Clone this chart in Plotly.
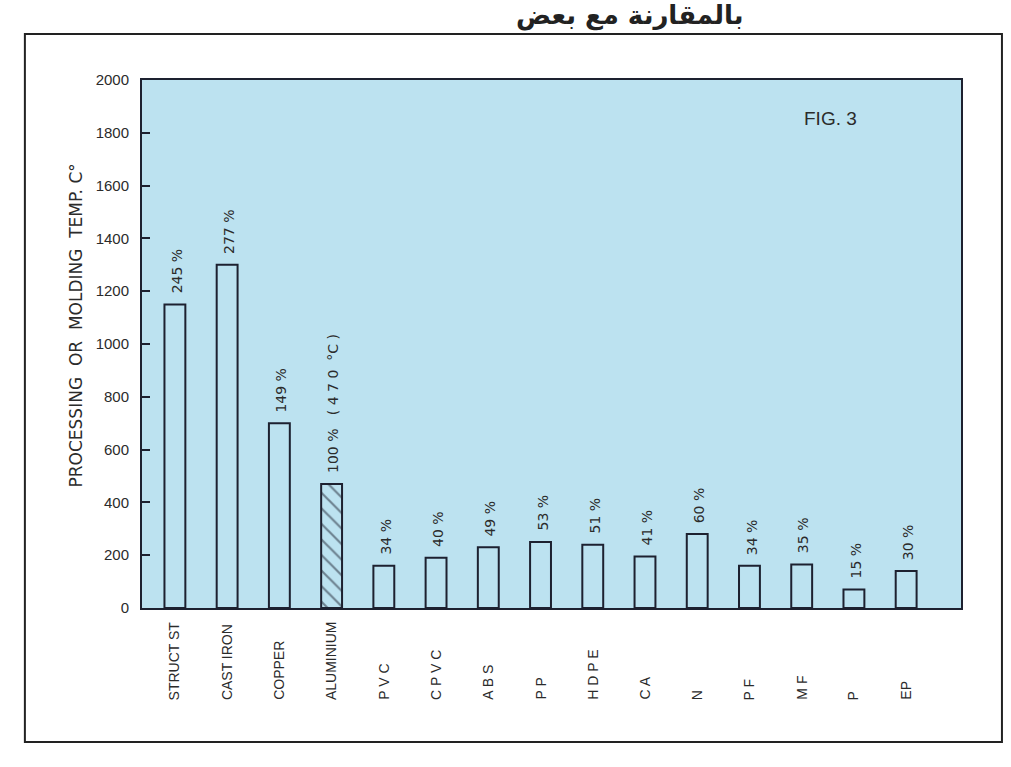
import plotly.graph_objects as go

# Materials, processing/molding temperatures (°C) and their share of aluminium's 470 °C
categories = ["STRUCT ST", "CAST IRON", "COPPER", "ALUMINIUM", "P V C", "C P V C", "A B S",
              "P P", "H D P E", "C A", "N", "P F", "M F", "P", "EP"]
temps = [1150, 1300, 700, 470, 160, 190, 230, 250, 240, 195, 280, 160, 165, 70, 140]
pct_labels = ["245 %", "277 %", "149 %", "100 %\u00a0\u00a0\u00a0( 4 7 0 \u00a0°C )", "34 %", "40 %",
              "49 %", "53 %", "51 %", "41 %", "60 %", "34 %", "35 %", "15 %", "30 %"]
hatch = ["", "", "", "\\", "", "", "", "", "", "", "", "", "", "", ""]
y_ticks = [0, 200, 400, 600, 800, 1000, 1200, 1400, 1600, 1800, 2000]

INK = "#1d2130"
TXT = "#2b2b2b"
BLUE = "#BCE2F0"

fig = go.Figure()
fig.add_trace(go.Bar(
    x=categories, y=temps, width=0.4,
    marker=dict(color="rgba(0,0,0,0)", line=dict(color=INK, width=2),
                pattern=dict(shape=hatch, fgcolor=INK, size=11, solidity=0.2)),
    hoverinfo="x+y", showlegend=False,
))

annotations = []
# value labels above bars
for c, v, t in zip(categories, temps, pct_labels):
    annotations.append(dict(x=c, y=v, xref="x", yref="y", text=t, textangle=-90,
                            showarrow=False, xanchor="center", yanchor="bottom", yshift=9,
                            xshift=2, font=dict(family="DejaVu Sans", size=14, color=TXT)))
# category labels, bottom-aligned below the axis
for c in categories:
    annotations.append(dict(x=c, y=-0.178, xref="x", yref="paper", text=c, textangle=-90,
                            showarrow=False, xanchor="center", yanchor="bottom",
                            font=dict(family="Liberation Sans", size=14, color=TXT)))
# y axis title
annotations.append(dict(x=-0.08, y=0.536, xref="paper", yref="paper",
                        text="PROCESSING\u00a0\u00a0OR\u00a0\u00a0MOLDING\u00a0\u00a0TEMP.\u00a0C°",
                        textangle=-90, showarrow=False, xanchor="center", yanchor="middle",
                        font=dict(family="DejaVu Sans", size=17, color=TXT)))
# figure tag
annotations.append(dict(x=0.841, y=0.928, xref="paper", yref="paper", text="FIG. 3",
                        showarrow=False, xanchor="center", yanchor="middle",
                        font=dict(family="Liberation Sans Narrow, Liberation Sans", size=19, color=TXT)))
# heading
annotations.append(dict(x=0.596, y=1.122, xref="paper", yref="paper", text="<b>بالمقارنة مع بعض</b>",
                        showarrow=False, xanchor="center", yanchor="middle",
                        font=dict(family="DejaVu Sans", size=26, color="#222222")))

fig.update_layout(
    width=1011, height=767,
    margin=dict(l=142, r=50, t=80, b=159),
    paper_bgcolor="white", plot_bgcolor=BLUE,
    bargap=0.6,
    annotations=annotations,
    shapes=[dict(type="rect", xref="paper", yref="paper", x0=-0.143, x1=1.05, y0=-0.254, y1=1.087,
                 line=dict(color="#222222", width=2), fillcolor="rgba(0,0,0,0)", layer="below")],
    xaxis=dict(range=[-0.63, 15.05], showticklabels=False, ticks="", showgrid=False, zeroline=False,
               showline=True, mirror=True, linecolor=INK, linewidth=2),
    yaxis=dict(range=[0, 2000], tickvals=y_ticks, ticks="inside", ticklen=8, tickwidth=1.5,
               tickcolor=INK, showgrid=False, zeroline=False, showline=True, mirror=True,
               linecolor=INK, linewidth=2, ticklabelstandoff=8,
               tickfont=dict(family="Liberation Sans", size=15, color=TXT)),
)

fig.write_html("out.html")
